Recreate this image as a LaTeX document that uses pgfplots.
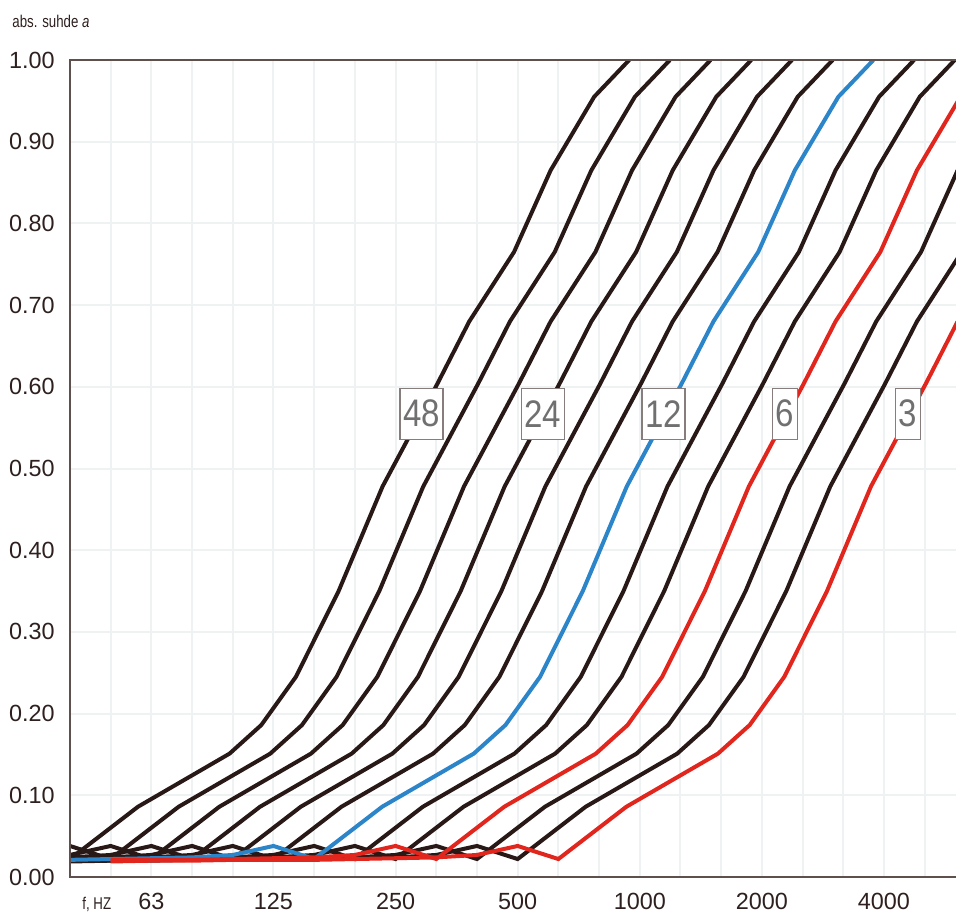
\documentclass[border=0pt]{standalone}
\usepackage{fontspec}
\setmainfont{Liberation Sans}
\newfontfamily\narrowfont[FakeStretch=0.78]{Liberation Sans}
\newfontfamily\lblfont[FakeStretch=0.86]{Liberation Sans}
\usepackage{pgfplots}
\pgfplotsset{compat=1.18}
\definecolor{crv}{RGB}{40,24,22}
\definecolor{cblue}{RGB}{45,133,201}
\definecolor{cred}{RGB}{225,38,30}
\definecolor{gridc}{RGB}{238,242,242}
\definecolor{axc}{RGB}{95,80,78}
\definecolor{txt}{RGB}{45,32,30}
\definecolor{lblc}{RGB}{112,112,112}
\definecolor{boxc}{RGB}{135,125,125}
\begin{document}
\begin{tikzpicture}
\begin{axis}[name=ax, at={(0,0)}, anchor=south west, scale only axis,
  width=443pt, height=408.5pt,
  xmin=0, xmax=21.77, ymin=0, ymax=1,
  xtick={2,5,8,11,14,17,20}, xticklabels={63,125,250,500,1000,2000,4000},
  minor xtick={0,1,...,22},
  ytick={0,0.1,0.2,0.3,0.4,0.5,0.6,0.7,0.8,0.9,1},
  grid=both,
  major grid style={draw=gridc, line width=1pt},
  minor grid style={draw=gridc, line width=1pt},
  major tick length=0pt, minor tick length=0pt,
  axis line style={draw=none},
  /pgf/number format/assume math mode=true,
  ticklabel style={font=\fontsize{11.7}{14}\selectfont, text=txt},
  yticklabel style={anchor=east, inner sep=0pt, xshift=-7.5pt,
    /pgf/number format/fixed, /pgf/number format/fixed zerofill, /pgf/number format/precision=2},
  xticklabel style={anchor=north, inner sep=0pt, yshift=-8pt},
  every axis plot/.append style={line width=2pt, no markers},
]
% black curves
\addplot[crv] coordinates {(0,0.022)(1.67,0.086)(3.92,0.151)(4.7,0.186)(5.55,0.245)(6.6,0.35)(7.68,0.478)(9.03,0.604)(9.81,0.68)(10.91,0.765)(11.81,0.865)(12.88,0.955)(13.74,1.0)};
\addplot[crv] coordinates {(0,0.038)(1,0.022)(2.67,0.086)(4.92,0.151)(5.7,0.186)(6.55,0.245)(7.6,0.35)(8.68,0.478)(10.03,0.604)(10.81,0.68)(11.91,0.765)(12.81,0.865)(13.88,0.955)(14.74,1.0)};
\addplot[crv] coordinates {(0,0.027)(1,0.038)(2,0.022)(3.67,0.086)(5.92,0.151)(6.7,0.186)(7.55,0.245)(8.6,0.35)(9.68,0.478)(11.03,0.604)(11.81,0.68)(12.91,0.765)(13.81,0.865)(14.88,0.955)(15.74,1.0)};
\addplot[crv] coordinates {(0,0.024)(1,0.027)(2,0.038)(3,0.022)(4.67,0.086)(6.92,0.151)(7.7,0.186)(8.55,0.245)(9.6,0.35)(10.68,0.478)(12.03,0.604)(12.81,0.68)(13.91,0.765)(14.81,0.865)(15.88,0.955)(16.74,1.0)};
\addplot[crv] coordinates {(0,0.023)(1,0.024)(2,0.027)(3,0.038)(4,0.022)(5.67,0.086)(7.92,0.151)(8.7,0.186)(9.55,0.245)(10.6,0.35)(11.68,0.478)(13.03,0.604)(13.81,0.68)(14.91,0.765)(15.81,0.865)(16.88,0.955)(17.74,1.0)};
\addplot[crv] coordinates {(0,0.022)(1,0.023)(2,0.024)(3,0.027)(4,0.038)(5,0.022)(6.67,0.086)(8.92,0.151)(9.7,0.186)(10.55,0.245)(11.6,0.35)(12.68,0.478)(14.03,0.604)(14.81,0.68)(15.91,0.765)(16.81,0.865)(17.88,0.955)(18.74,1.0)};
\addplot[crv] coordinates {(0,0.021)(1,0.021)(2,0.022)(3,0.023)(4,0.024)(5,0.027)(6,0.038)(7,0.022)(8.67,0.086)(10.92,0.151)(11.7,0.186)(12.55,0.245)(13.6,0.35)(14.68,0.478)(16.03,0.604)(16.81,0.68)(17.91,0.765)(18.81,0.865)(19.88,0.955)(20.74,1.0)};
\addplot[crv] coordinates {(0,0.021)(1,0.021)(2,0.021)(3,0.022)(4,0.023)(5,0.024)(6,0.027)(7,0.038)(8,0.022)(9.67,0.086)(11.92,0.151)(12.7,0.186)(13.55,0.245)(14.6,0.35)(15.68,0.478)(17.03,0.604)(17.81,0.68)(18.91,0.765)(19.81,0.865)(20.88,0.955)(21.74,1.0)};
\addplot[crv] coordinates {(0,0.020)(1,0.020)(2,0.021)(3,0.021)(4,0.021)(5,0.022)(6,0.023)(7,0.024)(8,0.027)(9,0.038)(10,0.022)(11.67,0.086)(13.92,0.151)(14.7,0.186)(15.55,0.245)(16.6,0.35)(17.68,0.478)(19.03,0.604)(19.81,0.68)(20.91,0.765)(21.81,0.865)};
\addplot[crv] coordinates {(0,0.019)(1,0.020)(2,0.020)(3,0.021)(4,0.021)(5,0.021)(6,0.022)(7,0.023)(8,0.024)(9,0.027)(10,0.038)(11,0.022)(12.67,0.086)(14.92,0.151)(15.7,0.186)(16.55,0.245)(17.6,0.35)(18.68,0.478)(20.03,0.604)(20.81,0.68)(21.91,0.765)};
% blue curve (12)
\addplot[cblue] coordinates {(0,0.021)(1,0.022)(2,0.023)(3,0.024)(4,0.027)(5,0.038)(6,0.022)(7.67,0.086)(9.92,0.151)(10.7,0.186)(11.55,0.245)(12.6,0.35)(13.68,0.478)(15.03,0.604)(15.81,0.68)(16.91,0.765)(17.81,0.865)(18.88,0.955)(19.74,1.0)};
% red curves (6 and 3)
\addplot[cred] coordinates {(1,0.021)(2,0.021)(3,0.021)(4,0.022)(5,0.023)(6,0.024)(7,0.027)(8,0.038)(9,0.022)(10.67,0.086)(12.92,0.151)(13.7,0.186)(14.55,0.245)(15.6,0.35)(16.68,0.478)(18.03,0.604)(18.81,0.68)(19.91,0.765)(20.81,0.865)(21.88,0.955)};
\addplot[cred] coordinates {(1,0.019)(2,0.020)(3,0.020)(4,0.021)(5,0.021)(6,0.021)(7,0.022)(8,0.023)(9,0.024)(10,0.027)(11,0.038)(12,0.022)(13.67,0.086)(15.92,0.151)(16.7,0.186)(17.55,0.245)(18.6,0.35)(19.68,0.478)(21.03,0.604)(21.81,0.68)};
% labels
\tikzset{lbl/.style={draw=boxc, line width=0.75pt, fill=white, text=lblc,
  font=\lblfont\fontsize{19.2}{20}\selectfont, inner xsep=1.6pt, inner ysep=0pt, minimum height=25.5pt}}
\node[lbl] at (axis cs:8.64,0.567) {48};
\node[lbl] at (axis cs:11.62,0.567) {24};
\node[lbl] at (axis cs:14.58,0.567) {12};
\node[lbl] at (axis cs:17.57,0.567) {6};
\node[lbl] at (axis cs:20.59,0.567) {3};
\end{axis}
\draw[axc, line width=1pt] (ax.north east) -- (ax.north west) -- (ax.south west) -- (ax.south east);
\node[anchor=base west, inner sep=0pt, text=txt, font=\narrowfont\fontsize{8.5}{10}\selectfont]
  at ([xshift=-29pt, yshift=16.2pt]ax.north west) {abs. suhde \textit{a}};
\node[anchor=base west, inner sep=0pt, text=txt, font=\narrowfont\fontsize{8.5}{10}\selectfont]
  at ([xshift=6pt, yshift=-16pt]ax.south west) {f, HZ};
\pgfresetboundingbox
\path (-35pt,-17.5pt) rectangle (443pt,438.5pt);
\end{tikzpicture}
\end{document}
